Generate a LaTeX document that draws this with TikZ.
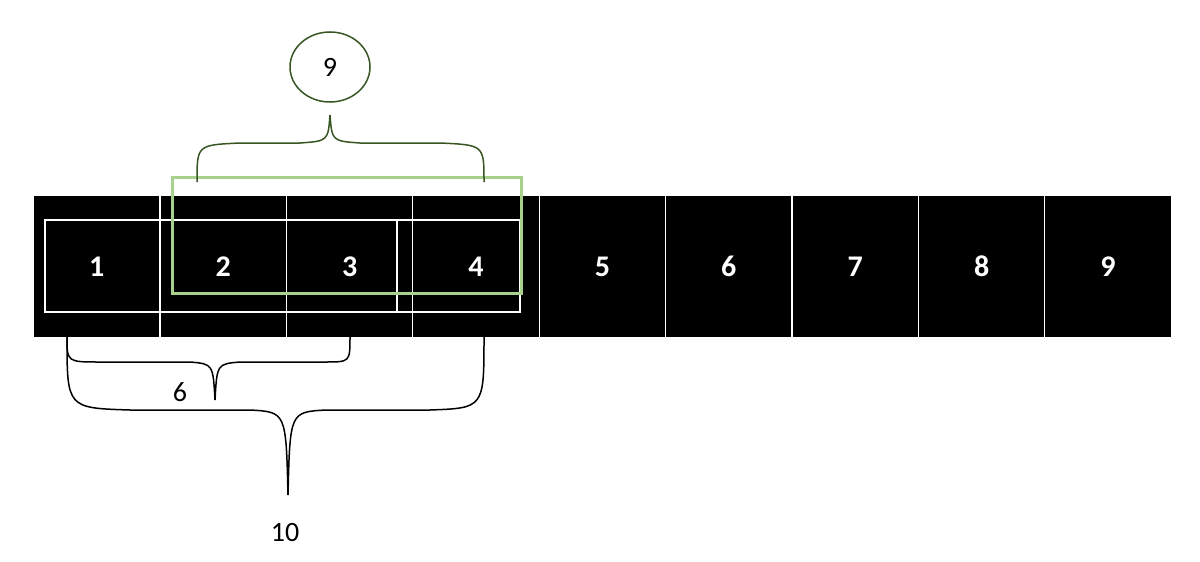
\documentclass[tikz,border=0pt]{standalone}
\usepackage{fontspec}
\usetikzlibrary{shapes.geometric}
\setmainfont{Carlito}
\definecolor{dg}{HTML}{375623}
\definecolor{lg}{HTML}{A9D18E}
\begin{document}
\begin{tikzpicture}[x=1pt,y=-1pt,
  cell/.style={fill=black,draw=white,line width=1.2pt,minimum width=126.4pt,minimum height=142pt,inner sep=0pt,anchor=north west,text=white,font=\fontsize{30}{30}\selectfont\bfseries},
  br/.style={line width=1.5pt}]
\useasboundingbox (0,0) rectangle (1200,562);
\foreach \i in {1,...,9}{
  \node[cell] (c\i) at ({33+(\i-1)*126.4},195) {\i};
}
\draw[white,line width=1.2pt] (45,220) rectangle (520,312);
\draw[white,line width=1.2pt] (397,220) -- (397,312);
\draw[lg,line width=3pt] (172,177) rectangle (521,293);
\draw[dg,br] (197,182) .. controls (197,145) .. (240,143) -- (300,143) .. controls (328,141) .. (330,115)
  .. controls (332,141) .. (360,143) -- (440,143) .. controls (484,145) .. (484,182);
\node[draw=dg,ellipse,line width=1.5pt,minimum width=80pt,minimum height=70pt,font=\fontsize{28}{28}\selectfont] (top) at (330,67) {9};
\draw[br] (67,337) .. controls (67,362) .. (100,362) -- (190,362) .. controls (213,364) .. (215,400)
  .. controls (217,364) .. (240,362) -- (325,362) .. controls (350,362) .. (350,337);
\node[font=\fontsize{28}{28}\selectfont] (six) at (180,392) {6};
\draw[br] (67,337) .. controls (67,408) .. (130,410) -- (250,410) .. controls (286,412) .. (288,495)
  .. controls (290,412) .. (326,410) -- (430,410) .. controls (484,408) .. (484,337);
\node[font=\fontsize{28}{28}\selectfont] (ten) at (285,533) {10};
\end{tikzpicture}
\end{document}
